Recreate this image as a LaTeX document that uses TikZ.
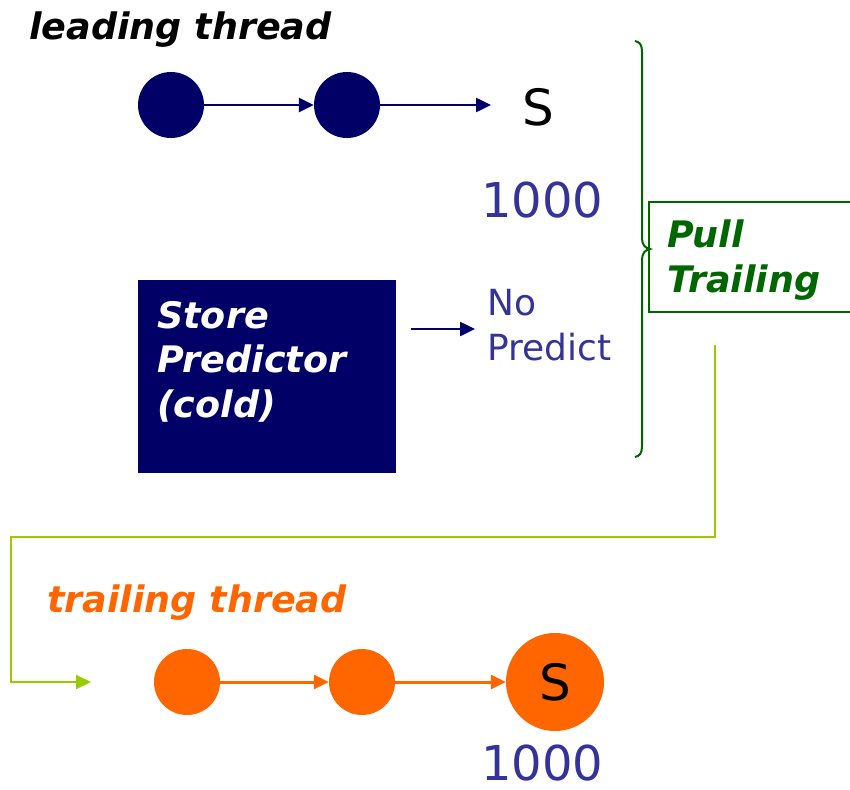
\documentclass[tikz,border=0pt]{standalone}
\usepackage{fontspec}
\setmainfont{DejaVu Sans}[BoldFont={DejaVu Sans Bold}, ItalicFont={DejaVu Sans Oblique}, BoldItalicFont={DejaVu Sans Bold Oblique}]
\usetikzlibrary{arrows.meta}
\definecolor{navy}{HTML}{000066}
\definecolor{numblue}{HTML}{333399}
\definecolor{darkgreen}{HTML}{006600}
\definecolor{lime}{HTML}{99CC00}
\definecolor{orng}{HTML}{FF6600}
\begin{document}
\begin{tikzpicture}[x=1pt, y=-1pt,
  dot/.style={circle, minimum size=66pt, inner sep=0pt},
  head/.style={font=\fontsize{36.5}{44.5}\selectfont\bfseries\itshape, inner sep=0pt, anchor=base west, align=left},
  plain/.style={font=\fontsize{36}{45}\selectfont, inner sep=0pt, anchor=base west, align=left},
  num/.style={font=\fontsize{48}{58}\selectfont, text=numblue, inner sep=0pt, anchor=base west},
  bigS/.style={font=\fontsize{50}{60}\selectfont, inner sep=0pt},
  tip/.style={-{Triangle[length=15pt,width=14pt]}}]
\useasboundingbox (0,0) rectangle (850,789);

% leading thread
\node[head, text=black] (lead) at (29,40) {leading thread};
\node[dot, fill=navy] (l1) at (171,105) {};
\node[dot, fill=navy] (l2) at (347,105) {};
\coordinate (lend) at (491,105);
\node[bigS, anchor=base west] (ls) at (522,125) {S};
\draw[navy, line width=2.5pt, tip] (l1) -- (l2);
\draw[navy, line width=2.5pt, tip] (l2) -- (lend);
\node[num] (n1) at (481,217) {1000};

% store predictor (base anchor sits on the last line)
\node[fill=navy, minimum width=258pt, minimum height=193pt, inner sep=0pt, anchor=north west] (sp) at (138,280) {};
\node[head, text=white] (sptext) at (157,417) {Store\\Predictor\\(cold)};
\coordinate (spout) at (411,329);
\coordinate (npin) at (475,329);
\draw[navy, line width=2.5pt, tip] (spout) -- (npin);
\node[plain, text=numblue] (np) at (487,360) {No\\Predict};

% brace and pull box
\draw[darkgreen, line width=2pt] (635,41) .. controls (640,42) and (642,45) .. (642,52) -- (642,238)
  .. controls (642,245) and (645,248) .. (650,249) .. controls (645,250) and (642,253) .. (642,260)
  -- (642,446) .. controls (642,453) and (640,456) .. (635,457);
\node[draw=darkgreen, line width=1.5pt, minimum width=220pt, minimum height=110pt, inner sep=0pt, anchor=north west] (pull) at (648,201) {};
\node[head, text=darkgreen] (pulltext) at (667,292) {Pull\\Trailing};

% feedback line
\coordinate (pullout) at (715,345);
\coordinate (bend) at (11,537);
\coordinate (trin) at (91,682);
\draw[lime, line width=2pt, tip] (pullout) |- (bend) |- (trin);

% trailing thread
\node[head, text=orng] (trail) at (47,612) {trailing thread};
\node[dot, fill=orng] (o1) at (187,682) {};
\node[dot, fill=orng] (o2) at (362,682) {};
\node[circle, fill=orng, minimum size=98pt, inner sep=0pt, font=\fontsize{50}{60}\selectfont] (o3) at (555,682) {S};
\draw[orng, line width=3pt, tip] (o1) -- (o2);
\draw[orng, line width=3pt, tip] (o2) -- (o3);
\node[num] (n2) at (481,780) {1000};
\end{tikzpicture}
\end{document}
